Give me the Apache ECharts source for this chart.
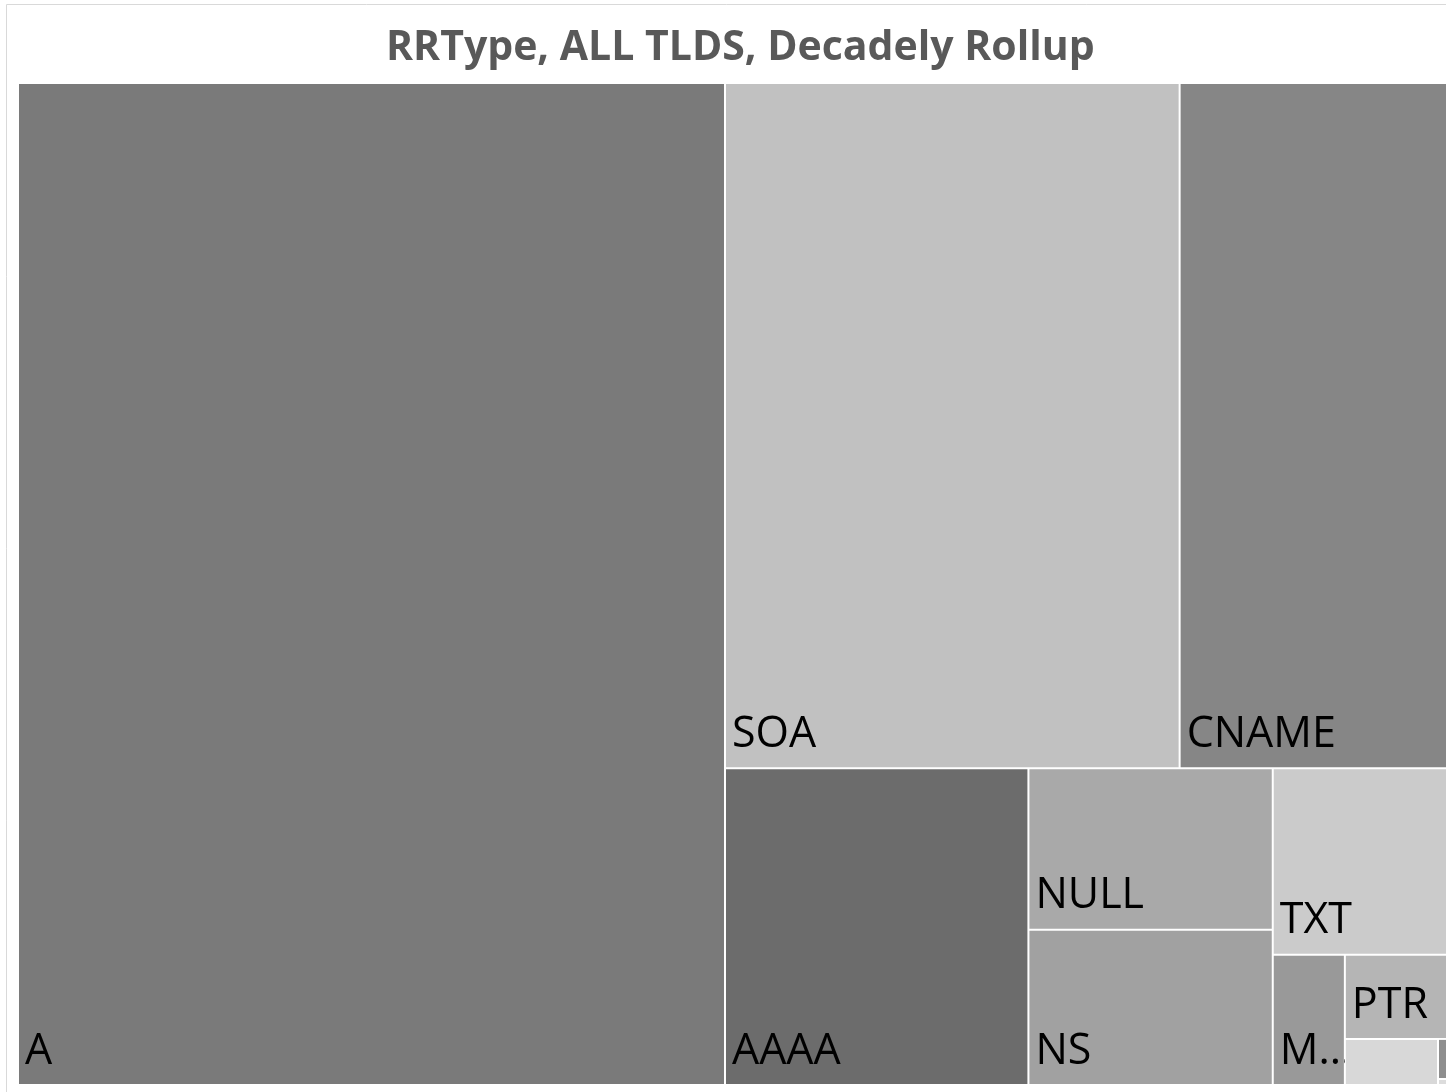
<!DOCTYPE html>
<html>
<head>
<meta charset="utf-8">
<title>RRType, ALL TLDS, Decadely Rollup</title>
<script src="https://cdn.jsdelivr.net/npm/echarts@6/dist/echarts.min.js"></script>
<style>
    html, body { margin: 0; padding: 0; background: #fff; }
    #chart { width: 1446px; height: 1092px; }
</style>
</head>
<body>
<div id="chart"></div>
<script>
// record types, largest first (the last ones are too small to carry a label)
var names = ['A', 'SOA', 'CNAME', 'AAAA', 'NULL', 'NS', 'TXT', 'MX', 'PTR', 'SRV', 'HINFO', 'RP'];
var values = [706000, 310536, 182628, 95748, 39284, 37820, 32364, 9360, 8568, 4278, 360, 54];
var colors = ['#7a7a7a', '#c1c1c1', '#868686', '#6c6c6c', '#a9a9a9', '#a1a1a1', '#cbcbcb',
    '#999999', '#b5b5b5', '#d8d8d8', '#8e8e8e', '#dcdcdc'];
// text shown in the box (Excel cut MX short)
var shownText = ['A', 'SOA', 'CNAME', 'AAAA', 'NULL', 'NS', 'TXT', 'M...', 'PTR', '', '', ''];

var firstNested = 7;

function leaf(i) {
    return {
        name: names[i],
        value: values[i],
        itemStyle: {
            color: colors[i],
            borderWidth: 1,
            borderColor: '#fff'
        },
        label: {
            show: shownText[i] !== '',
            formatter: shownText[i]
        }
    };
}

// small tail items are grouped so the layout splits the same way as the original
function nest(i) {
    if (i === names.length - 1) {
        return leaf(i);
    }
    return {
        name: 'group' + i,
        itemStyle: { borderWidth: 0, gapWidth: 0 },
        children: [leaf(i), nest(i + 1)]
    };
}

var treeData = [];
for (var i = 0; i < firstNested; i++) {
    treeData.push(leaf(i));
}
treeData.push(nest(firstNested));

var chart = echarts.init(document.getElementById('chart'));

var option = {
    animation: false,
    title: {
        text: 'RRType, ALL TLDS, Decadely Rollup',
        left: 381,
        top: 23,
        textStyle: {
            fontFamily: 'Open Sans',
            fontWeight: 'bold',
            fontSize: 41,
            color: '#595959'
        }
    },
    graphic: [
        {
            type: 'rect',
            silent: true,
            shape: { x: 6.5, y: 4.5, width: 1470, height: 1120 },
            style: { fill: 'none', stroke: '#d9d9d9', lineWidth: 1 }
        }
    ],
    series: [
        {
            type: 'treemap',
            left: 18,
            top: 83,
            width: 1429,
            height: 1002,
            sort: null,
            squareRatio: 1.28,
            roam: false,
            nodeClick: false,
            breadcrumb: { show: false },
            visibleMin: 0,
            itemStyle: { borderWidth: 0, gapWidth: 0 },
            label: {
                show: true,
                position: 'insideBottomLeft',
                distance: 0,
                padding: [0, 0, 11, 6],
                color: '#000',
                fontFamily: 'Open Sans',
                fontSize: 43,
                overflow: 'none'
            },
            emphasis: { disabled: true },
            data: treeData
        }
    ]
};

chart.setOption(option);
</script>
</body>
</html>
